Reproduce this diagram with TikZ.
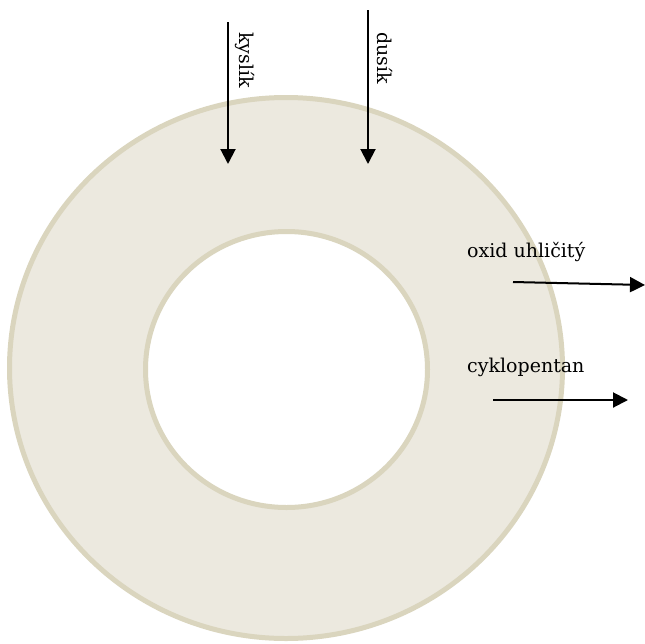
\documentclass[tikz,border=0pt]{standalone}
\usepackage{fontspec}
\setmainfont{DejaVu Serif}
\usetikzlibrary{arrows.meta}
\definecolor{ringfill}{HTML}{ECE9DF}
\definecolor{ringedge}{HTML}{DAD5BE}
\begin{document}
\begin{tikzpicture}[x=1pt,y=-1pt,
  ring/.style={draw=ringedge,line width=5pt},
  flow/.style={line width=2pt,-{Triangle[length=15pt,width=15pt]}},
  lbl/.style={inner sep=0pt,font=\fontsize{19}{22}\selectfont}]
\useasboundingbox (0,0) rectangle (645,643);
\coordinate (ctr) at (286,368);
\coordinate (ictr) at (286.5,369.5);
\draw[ring,fill=ringfill] (ctr) ellipse [x radius=276.5pt, y radius=270.5pt];
\draw[ring,fill=white] (ictr) ellipse [x radius=141pt, y radius=138pt];
\coordinate (k1) at (228,22); \coordinate (k2) at (228,164);
\coordinate (d1) at (368,10); \coordinate (d2) at (368,164);
\coordinate (o1) at (513,282); \coordinate (o2) at (645,285);
\coordinate (c1) at (493,400); \coordinate (c2) at (628,400);
\draw[flow] (k1) -- (k2);
\draw[flow] (d1) -- (d2);
\draw[flow] (o1) -- (o2);
\draw[flow] (c1) -- (c2);
\node[lbl,rotate=-90] (kyslik) at (245,60) {kyslík};
\node[lbl,rotate=-90] (dusik) at (385,58) {dusík};
\node[lbl,anchor=west] (oxid) at (467,252) {oxid uhličitý};
\node[lbl,anchor=west] (cyklo) at (467,367) {cyklopentan};
\end{tikzpicture}
\end{document}
